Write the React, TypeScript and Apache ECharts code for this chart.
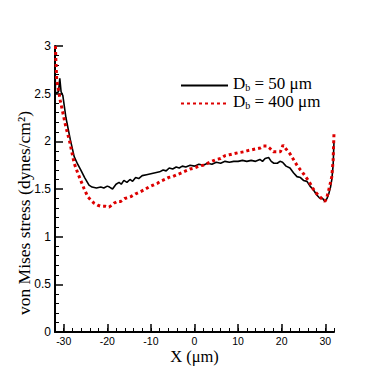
import React, { useEffect, useRef } from "react";
import * as echarts from "echarts";

const xMajorTicks = [-30, -20, -10, 0, 10, 20, 30];
const yAxisTitle = "von Mises stress (dynes/cm²)";
const xAxisTitle = "X (μm)";

const blackX = [-32, -31.9, -31.2, -30.9, -30.6, -30.2, -29.5, -28.5, -27.6, -26.8, -26.1, -25.2, -24.2, -23.5, -22.5, -21.5, -20.8, -20, -19.5, -18.8, -18, -17.3, -16.8, -16.2, -15.5, -14.8, -14.2, -13.5, -12.8, -12, -11, -10, -9, -8, -7.2, -6.5, -5.8, -5, -4.2, -3.5, -2.8, -2, -1, 0, 1, 2, 3, 4, 5, 6, 7, 8, 9, 10, 11, 12, 13, 14, 15, 15.6, 16.2, 17, 17.6, 18.2, 19, 19.6, 20.2, 21, 21.9, 22.7, 23.5, 24.3, 25, 25.8, 26.5, 27.3, 28, 28.8, 29.4, 29.9, 30.4, 30.8, 31.2, 31.5, 31.8, 32];
const blackY = [2.98, 2.5, 2.52, 2.66, 2.52, 2.48, 2.25, 2.02, 1.84, 1.76, 1.7, 1.62, 1.54, 1.52, 1.51, 1.52, 1.51, 1.53, 1.52, 1.5, 1.55, 1.57, 1.55, 1.59, 1.57, 1.6, 1.58, 1.62, 1.61, 1.64, 1.65, 1.66, 1.67, 1.68, 1.7, 1.69, 1.72, 1.71, 1.73, 1.72, 1.74, 1.73, 1.75, 1.74, 1.76, 1.75, 1.77, 1.76, 1.78, 1.77, 1.79, 1.78, 1.79, 1.79, 1.8, 1.79, 1.8, 1.79, 1.81, 1.79, 1.82, 1.83, 1.79, 1.77, 1.77, 1.79, 1.78, 1.74, 1.72, 1.67, 1.63, 1.62, 1.59, 1.58, 1.53, 1.49, 1.44, 1.4, 1.4, 1.37, 1.4, 1.45, 1.52, 1.6, 1.75, 2.0];

const redX = [-31.9, -31.8, -31.6, -31.2, -30.8, -30.2, -29.5, -28.7, -27.6, -26.8, -26.1, -25.3, -24.5, -23.7, -23, -22.2, -21.5, -20.5, -19.6, -19, -18.5, -17.7, -16.9, -16, -15.2, -14.6, -13.5, -12.5, -11.6, -10.5, -9.5, -8.5, -7.8, -6.8, -6, -5, -4, -3, -2, -1, 0, 1, 2, 3, 4, 5, 6, 7, 8, 9, 10, 11.3, 12, 13, 14, 15.1, 15.8, 16.6, 17.2, 18.1, 19, 19.7, 20.3, 21, 21.9, 22.7, 23.5, 24.3, 25, 25.8, 26.5, 27.1, 27.7, 28.5, 29.2, 29.9, 30.3, 30.7, 31.1, 31.5, 31.8, 32];
const redY = [3.0, 2.85, 2.64, 2.54, 2.43, 2.3, 2.15, 2.01, 1.77, 1.67, 1.59, 1.5, 1.42, 1.38, 1.35, 1.33, 1.32, 1.32, 1.31, 1.33, 1.35, 1.37, 1.37, 1.4, 1.41, 1.42, 1.45, 1.47, 1.49, 1.52, 1.54, 1.56, 1.58, 1.6, 1.62, 1.63, 1.65, 1.67, 1.69, 1.71, 1.72, 1.74, 1.75, 1.77, 1.79, 1.81, 1.82, 1.85, 1.86, 1.87, 1.88, 1.89, 1.9, 1.91, 1.92, 1.93, 1.95, 1.95, 1.93, 1.89, 1.89, 1.89, 1.96, 1.92, 1.87, 1.81, 1.75, 1.7, 1.66, 1.61, 1.56, 1.51, 1.47, 1.43, 1.4, 1.37, 1.4, 1.47, 1.55, 1.63, 1.8, 2.09];

const seriesNames = ["Db50", "Db400"];
const legendLabels: Record<string, string> = { Db50: " = 50 μm", Db400: " = 400 μm" };

const zip = (xs: number[], ys: number[]) => xs.map((x, i) => [x, ys[i]]);

export default function App() {
  const ref = useRef<HTMLDivElement>(null);
  useEffect(() => {
    if (!ref.current) return;
    const chart = echarts.init(ref.current, null, { renderer: "svg" });
    const serif = "Liberation Serif";
    const sans = "Liberation Sans";
    const legendBase = {
      orient: "vertical",
      left: 175,
      itemWidth: 47,
      itemHeight: 13,
      itemStyle: { opacity: 0 },
      formatter: (name: string) => `{d|D}{b|b}{t|${legendLabels[name]}}`,
      textStyle: {
        color: "#000",
        fontFamily: serif,
        fontSize: 17,
        rich: {
          d: { fontFamily: serif, fontSize: 17, color: "#000", verticalAlign: "bottom", lineHeight: 13 },
          b: { fontFamily: serif, fontSize: 10, color: "#000", verticalAlign: "bottom", lineHeight: 6 },
          t: { fontFamily: serif, fontSize: 17, color: "#000", verticalAlign: "bottom", lineHeight: 13 },
        },
      },
    };
    chart.setOption({
      animation: false,
      backgroundColor: "#fff",
      grid: { left: 55, right: 40, top: 46, bottom: 43 },
      legend: [
        { ...legendBase, data: [seriesNames[0]], top: 70 },
        { ...legendBase, data: [seriesNames[1]], top: 88 },
      ],
      graphic: [
        {
          type: "text",
          x: 24,
          y: 213,
          rotation: Math.PI / 2,
          style: {
            text: yAxisTitle,
            font: `17.5px ${serif}`,
            fill: "#000",
            textAlign: "center",
            textVerticalAlign: "middle",
          },
        },
      ],
      xAxis: [
        {
          type: "value",
          min: -32,
          max: 32,
          interval: 2,
          axisLine: { onZero: false, lineStyle: { color: "#000", width: 2 } },
          axisTick: { inside: true, length: 4, lineStyle: { color: "#000", width: 1 } },
          axisLabel: { show: false },
          splitLine: { show: false },
          name: xAxisTitle,
          nameLocation: "middle",
          nameGap: 17,
          nameTextStyle: { fontFamily: serif, fontSize: 16.5, lineHeight: 14, color: "#000" },
        },
        {
          type: "value",
          min: -32,
          max: 32,
          position: "bottom",
          axisLine: { show: false, onZero: false },
          axisTick: { inside: true, length: 8, customValues: xMajorTicks, lineStyle: { color: "#000", width: 1.5 } },
          axisLabel: { customValues: xMajorTicks, fontFamily: sans, fontSize: 10.5, lineHeight: 9, color: "#000", margin: 4 },
          splitLine: { show: false },
        },
      ],
      yAxis: {
        type: "value",
        min: 0,
        max: 3,
        interval: 0.5,
        axisLine: { show: true, onZero: false, lineStyle: { color: "#000", width: 2 } },
        axisTick: { show: true, inside: true, length: 8, lineStyle: { color: "#000", width: 1.5 } },
        minorTick: { show: true, splitNumber: 5, length: 4, lineStyle: { color: "#000", width: 1 } },
        axisLabel: { fontFamily: sans, fontSize: 12, color: "#000", margin: 4 },
        splitLine: { show: false },
      },
      series: [
        {
          name: "Db50",
          type: "line",
          xAxisIndex: 0,
          data: zip(blackX, blackY),
          showSymbol: false,
          symbol: "none",
          lineStyle: { color: "#000", width: 1.6 },
          itemStyle: { color: "#000" },
        },
        {
          name: "Db400",
          type: "line",
          xAxisIndex: 0,
          data: zip(redX, redY),
          showSymbol: false,
          symbol: "none",
          lineStyle: { color: "#dd0000", width: 3, type: [3, 3] },
          itemStyle: { color: "#dd0000" },
        },
      ],
    });
    return () => chart.dispose();
  }, []);
  return <div ref={ref} style={{ width: 374, height: 375, margin: -8 }} />;
}
